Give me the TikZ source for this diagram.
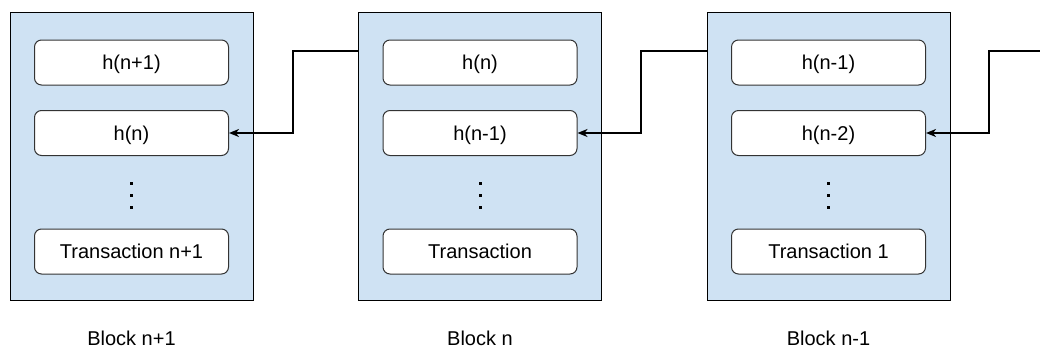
\documentclass[tikz,border=0pt]{standalone}
\usepackage{fontspec}
\setmainfont{Liberation Sans}
\usetikzlibrary{positioning,arrows.meta}
\definecolor{blockfill}{HTML}{CFE2F3}
\definecolor{boxline}{HTML}{333333}

\begin{document}
\begin{tikzpicture}[x=1pt, y=-1pt,
    font=\fontsize{20}{24}\selectfont,
    blockbox/.style={draw=black, fill=blockfill, line width=1pt, minimum width=243pt, minimum height=288pt, inner sep=0pt},
    fieldbox/.style={draw=boxline, fill=white, line width=1pt, rounded corners=7pt, minimum width=194pt, minimum height=45pt, inner sep=0pt, text height=14.5pt, text depth=0pt},
    dot/.style={fill=black, minimum size=3pt, inner sep=0pt},
    blocklabel/.style={inner sep=0pt, text height=14.5pt, text depth=0pt, anchor=base},
    link/.style={line width=2pt, -{Stealth[length=10pt, width=8pt, inset=3pt]}}]

\useasboundingbox (0,0) rectangle (1040,348);

% the three blocks, each with its hash fields and a transaction
\foreach \i/\x/\ha/\hb/\tx/\lab in {1/131.5/h(n+1)/h(n)/Transaction n+1/Block n+1,
                                    2/480/h(n)/h(n-1)/Transaction/Block n,
                                    3/828.5/h(n-1)/h(n-2)/Transaction 1/Block n-1} {
    \node[blockbox] (b\i) at (\x,156) {};
    \node[fieldbox] (top\i) at (\x,62.5) {\ha};
    \node[fieldbox] (prev\i) at (\x,133) {\hb};
    \node[fieldbox] (tx\i) at (\x,251.5) {\tx};
    % vertical dots
    \node[dot] (d\i a) at (\x,183) {};
    \node[dot] (d\i b) at (\x,195) {};
    \node[dot] (d\i c) at (\x,207) {};
    \node[blocklabel] (lab\i) at (\x,345.5) {\lab};
}

% where the links leave each block
\coordinate (out2) at ([yshift=-39pt]b2.north west);
\coordinate (out3) at ([yshift=-39pt]b3.north west);
\coordinate (out4) at (1040,51);

% links to the previous hash
\draw[link] (out2) -- ++(-65,0) |- (prev1.east);
\draw[link] (out3) -- ++(-66,0) |- (prev2.east);
\draw[link] (out4) -- ++(-51,0) |- (prev3.east);
\end{tikzpicture}
\end{document}
